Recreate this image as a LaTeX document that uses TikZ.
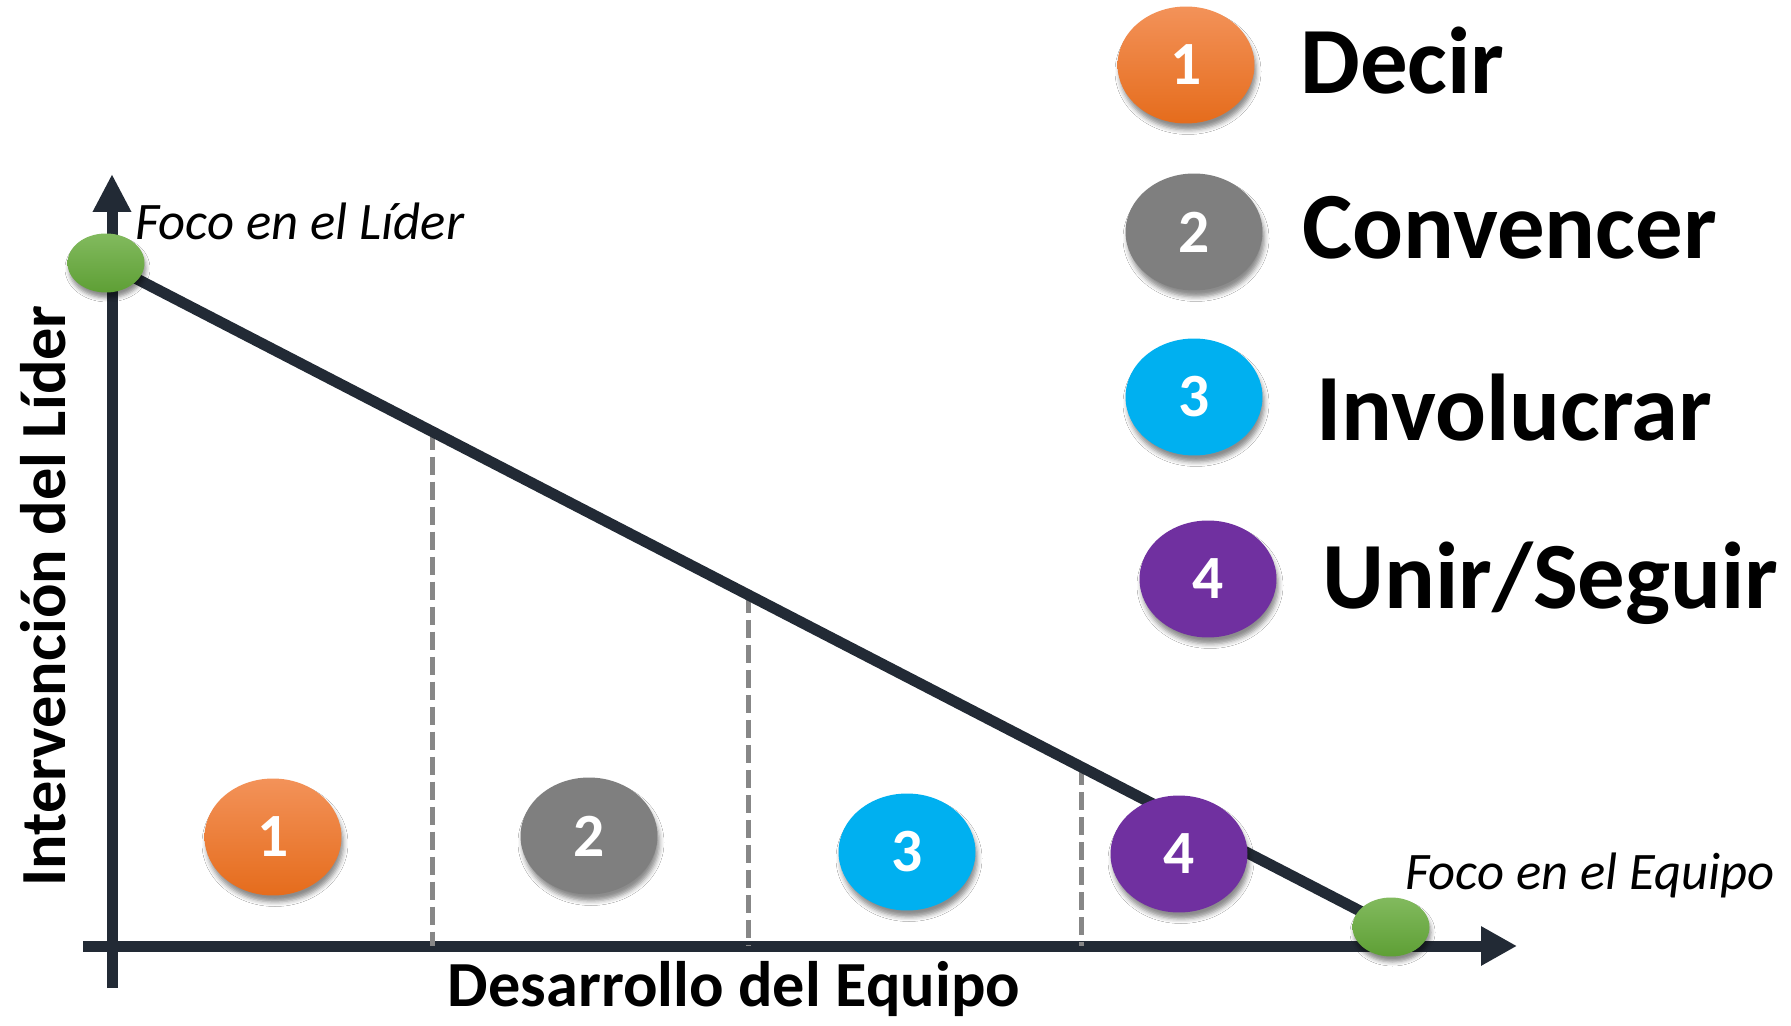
\documentclass[tikz,border=0pt]{standalone}
\usepackage{fontspec}
\setmainfont{Carlito}
\usetikzlibrary{arrows.meta, shapes.geometric, shadows.blur, calc}
\usetikzlibrary{positioning}
\usepackage{xcolor}
\definecolor{ejeoscuro}{HTML}{222A35}
\definecolor{naranjaclaro}{HTML}{F39259}
\definecolor{naranjaoscuro}{HTML}{E56C1C}
\definecolor{verdeclaro}{HTML}{82BA5E}
\definecolor{verdeoscuro}{HTML}{5E9F35}
\definecolor{grisbola}{HTML}{7F7F7F}
\definecolor{celeste}{HTML}{00B0F0}
\definecolor{morado}{HTML}{7030A0}
\definecolor{griscorte}{HTML}{878787}

\begin{document}
\begin{tikzpicture}[x=0.02cm, y=-0.02cm,
	eje/.style={ejeoscuro, line width=0.22cm},
	corte/.style={griscorte, line width=0.11cm, dash pattern=on 0.36cm off 0.14cm},
	bola/.style={ellipse, minimum width=2.74cm, minimum height=2.34cm, inner sep=0pt,
		text=white, font=\bfseries\fontsize{35}{35}\selectfont,
		blur shadow={shadow xshift=0.4mm, shadow yshift=-1.3mm, shadow opacity=45, shadow blur radius=0.9mm}},
	punto/.style={ellipse, minimum width=1.54cm, minimum height=1.18cm, inner sep=0pt,
		top color=verdeclaro, bottom color=verdeoscuro, draw=none,
		blur shadow={shadow xshift=0.3mm, shadow yshift=-1.1mm, shadow opacity=45, shadow blur radius=0.8mm}},
	leyenda/.style={anchor=base west, inner sep=0pt, font=\bfseries\fontsize{54}{60}\selectfont},
	foco/.style={anchor=base west, inner sep=0pt, font=\itshape\fontsize{30}{34}\selectfont},
	titulo/.style={anchor=base, inner sep=0pt, font=\bfseries\fontsize{36.6}{40}\selectfont}]
	\fill[white] (0,0) rectangle (1791,1026);
	\useasboundingbox (0,0) rectangle (1791,1026);
	% ejes
	\coordinate (origen) at (112,946);
	\draw[eje, -{Triangle[length=0.76cm, width=0.72cm]}] (112,988) -- (112,174);
	\draw[eje, -{Triangle[length=0.72cm, width=0.74cm]}] (83,946) -- (1517,946);
	% extremos de la recta
	\coordinate (lider) at (106,263);
	\coordinate (equipo) at (1391,927);
	% cortes
	\draw[corte] ($(lider)!0.254!(equipo)$) coordinate (c1) -- (c1 |- origen);
	\draw[corte] ($(lider)!0.5!(equipo)$) coordinate (c2) -- (c2 |- origen);
	\draw[corte] ($(lider)!0.759!(equipo)$) coordinate (c3) -- (c3 |- origen);
	% recta
	\draw[eje] (lider) -- (equipo);
	\node[punto] (pl) at (lider) {};
	\node[punto] (pe) at (equipo) {};
	\node[foco] (fl) at (135,240) {Foco en el Líder};
	\node[foco] (fe) at (1405,889) {Foco en el Equipo};
	% etapas
	\node[bola, top color=naranjaclaro, bottom color=naranjaoscuro] (b1) at (273,837) {1};
	\node[bola, fill=grisbola] (b2) at (589,836) {2};
	\node[bola, fill=celeste] (b3) at (907,852) {3};
	\node[bola, fill=morado] (b4) at (1179,854) {4};
	% leyenda
	\node[bola, top color=naranjaclaro, bottom color=naranjaoscuro] (l1) at (1186,65) {1};
	\node[bola, fill=grisbola] (l2) at (1194,232) {2};
	\node[bola, fill=celeste] (l3) at (1194,397) {3};
	\node[bola, fill=morado] (l4) at (1208,579) {4};
	\node[leyenda] (t1) at (1300,94) {Decir};
	\node[leyenda] (t2) at (1302,259) {Convencer};
	\node[leyenda] (t3) at (1316,441) {Involucrar};
	\node[leyenda] (t4) at (1322,608) {Unir/Seguir};
	% titulos de los ejes
	\node[titulo] (tx) at (734,1006) {Desarrollo del Equipo};
	\node[titulo, rotate=90] (ty) at (65,596) {Intervención del Líder};
\end{tikzpicture}
\end{document}
